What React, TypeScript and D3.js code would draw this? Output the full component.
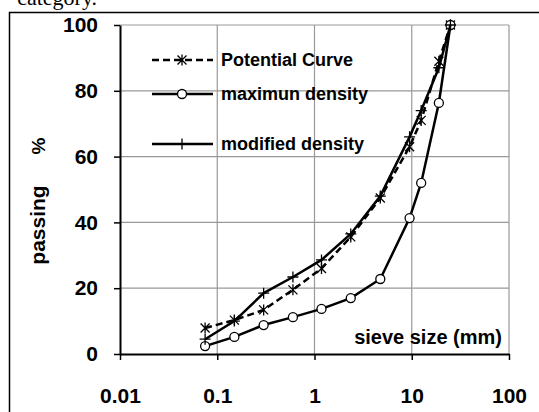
import React, { useRef, useEffect } from 'react'
import * as d3 from 'd3'

// sieve openings (mm)
const sieves = [0.075, 0.15, 0.3, 0.6, 1.18, 2.36, 4.75, 9.5, 12.5, 19, 25]
const potentialCurve = [7.9, 10.3, 13.4, 19.5, 26, 35.6, 47.4, 63, 71, 89, 100]
const maxDensity = [2.4, 5.2, 8.8, 11.2, 13.7, 17, 22.8, 41.3, 52, 76.3, 100]
const modifiedDensity = [4.5, 10, 18.5, 23.4, 28.6, 36.5, 48, 66, 74, 87, 100]

const xTicks = [0.01, 0.1, 1, 10, 100]
const yTicks = [0, 20, 40, 60, 80, 100]
const legendNames = ['Potential Curve', 'maximun density', 'modified density']

const FONT = 'Liberation Sans, Arial, sans-serif'

const App = () => {
    const svgRef = useRef<SVGSVGElement>(null)

    useEffect(() => {
        const svg = d3.select(svgRef.current)
        svg.selectAll('*').remove()

        const left = 120
        const right = 509
        const top = 25
        const bottom = 354

        const xScale = d3.scaleLog().domain([0.01, 100]).range([left, right])
        const yScale = d3.scaleLinear().domain([0, 100]).range([bottom, top])

        //text from the page above the figure
        svg.append('text')
            .attr('x', 97)
            .attr('y', 5)
            .attr('text-anchor', 'end')
            .style('font-family', 'Liberation Serif, Times New Roman, serif')
            .style('font-size', '22px')
            .text('category.')

        //outer frame
        svg.append('rect')
            .attr('x', 9.5)
            .attr('y', 12.5)
            .attr('width', 560)
            .attr('height', 420)
            .attr('fill', 'none')
            .attr('stroke', '#000')
            .attr('stroke-width', 1.5)

        //grid
        const grid = svg.append('g').attr('stroke', '#999').attr('stroke-width', 1.2)
        xTicks.slice(1).forEach((t) => {
            grid.append('line')
                .attr('x1', xScale(t)).attr('x2', xScale(t))
                .attr('y1', top).attr('y2', bottom)
        })
        yTicks.slice(1).forEach((t) => {
            grid.append('line')
                .attr('x1', left).attr('x2', right)
                .attr('y1', yScale(t)).attr('y2', yScale(t))
        })

        //y axis
        const yAxis = svg.append('g')
            .attr('transform', `translate(${left}, 0)`)
            .call(d3.axisLeft(yScale).tickValues(yTicks).tickSize(6).tickPadding(16).tickSizeOuter(0))
        yAxis.select('.domain').attr('stroke', '#000').attr('stroke-width', 2)
        yAxis.selectAll('.tick line').attr('stroke-width', 1.5)
        yAxis.selectAll('text')
            .style('font-family', FONT)
            .style('font-size', '21px')
            .style('font-weight', 'bold')
            .attr('fill', '#000')

        //x axis
        const xAxis = svg.append('g')
            .attr('transform', `translate(0, ${bottom})`)
            .call(d3.axisBottom(xScale).tickValues(xTicks).tickFormat((d) => String(d)).tickSize(6).tickPadding(28).tickSizeOuter(0))
        xAxis.select('.domain').attr('stroke', '#000').attr('stroke-width', 2)
        xAxis.selectAll('.tick line').attr('stroke-width', 1.5)
        xAxis.selectAll('text')
            .style('font-family', FONT)
            .style('font-size', '21px')
            .style('font-weight', 'bold')
            .attr('fill', '#000')

        //axis titles
        svg.append('text')
            .attr('x', 502)
            .attr('y', 344)
            .attr('text-anchor', 'end')
            .style('font-family', FONT)
            .style('font-size', '20px')
            .style('font-weight', 'bold')
            .text('sieve size (mm)')

        svg.append('text')
            .attr('transform', 'translate(45, 225) rotate(-90)')
            .attr('text-anchor', 'middle')
            .style('font-family', FONT)
            .style('font-size', '21px')
            .style('font-weight', 'bold')
            .text('passing')
        svg.append('text')
            .attr('transform', 'translate(45, 146) rotate(-90)')
            .attr('text-anchor', 'middle')
            .style('font-family', FONT)
            .style('font-size', '19px')
            .style('font-weight', 'bold')
            .text('%')

        const asterisk = (g, x, y) => {
            const s = 4.5
            g.append('path')
                .attr('d', `M${x - s},${y - s}L${x + s},${y + s}M${x - s},${y + s}L${x + s},${y - s}M${x},${y - s - 1}L${x},${y + s + 1}`)
                .attr('stroke', '#000').attr('stroke-width', 1.3).attr('fill', 'none')
        }
        const plus = (g, x, y) => {
            const s = 5.5
            g.append('path')
                .attr('d', `M${x - s},${y}L${x + s},${y}M${x},${y - s}L${x},${y + s}`)
                .attr('stroke', '#000').attr('stroke-width', 1.3).attr('fill', 'none')
        }
        const circle = (g, x, y) => {
            g.append('circle')
                .attr('cx', x).attr('cy', y).attr('r', 4.5)
                .attr('fill', '#fff').attr('stroke', '#000').attr('stroke-width', 1.3)
        }

        const series = [
            { values: potentialCurve, dash: '7,4', marker: asterisk },
            { values: maxDensity, dash: null, marker: circle },
            { values: modifiedDensity, dash: null, marker: plus },
        ]

        const line = d3.line<number>()
            .x((d, i) => xScale(sieves[i]))
            .y((d) => yScale(d))

        series.forEach((s) => {
            const g = svg.append('g')
            g.append('path')
                .datum(s.values)
                .attr('fill', 'none')
                .attr('stroke', '#000')
                .attr('stroke-width', 2.5)
                .attr('stroke-dasharray', s.dash)
                .attr('d', line)
            s.values.forEach((v, i) => s.marker(g, xScale(sieves[i]), yScale(v)))
        })

        //legend
        const legendY = [60, 94, 144]
        series.forEach((s, i) => {
            const g = svg.append('g')
            g.append('line')
                .attr('x1', 152).attr('x2', 213)
                .attr('y1', legendY[i]).attr('y2', legendY[i])
                .attr('stroke', '#000')
                .attr('stroke-width', 2.5)
                .attr('stroke-dasharray', s.dash)
            s.marker(g, 182, legendY[i])
            g.append('text')
                .attr('x', 221)
                .attr('y', legendY[i] + 6)
                .style('font-family', FONT)
                .style('font-size', '18px')
                .style('font-weight', 'bold')
                .text(legendNames[i])
        })
    }, [])

    return (
        <svg
            ref={svgRef}
            width={539}
            height={412}
            style={{ position: 'fixed', left: 0, top: 0, background: '#fff' }}
        />
    )
}

export default App
